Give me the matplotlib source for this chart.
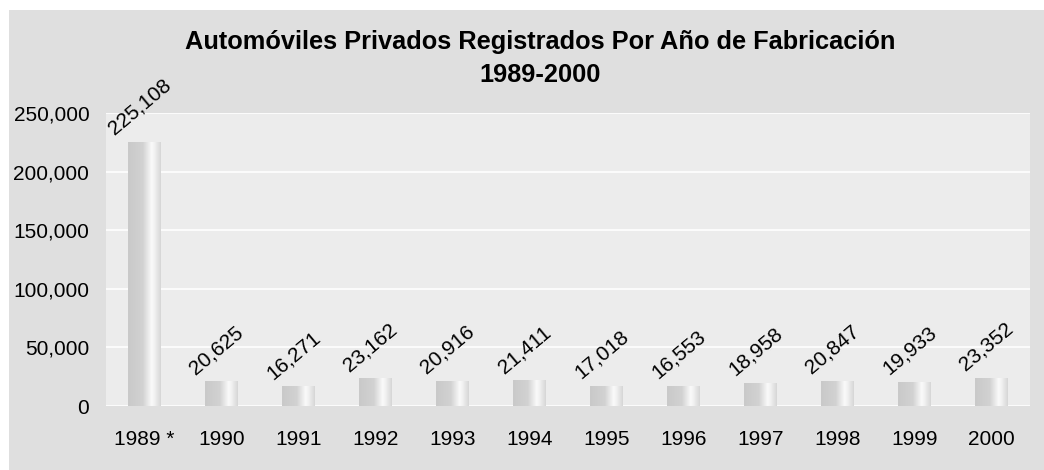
import numpy as np
import matplotlib.pyplot as plt
from matplotlib.colors import LinearSegmentedColormap
from matplotlib.patches import Rectangle
from matplotlib.ticker import FuncFormatter

years = ["1989 *", "1990", "1991", "1992", "1993", "1994",
         "1995", "1996", "1997", "1998", "1999", "2000"]
cars = [225108, 20625, 16271, 23162, 20916, 21411,
        17018, 16553, 18958, 20847, 19933, 23352]

plt.rcParams['font.family'] = ['Liberation Sans', 'DejaVu Sans']

fig = plt.figure(figsize=(10.44, 4.70), dpi=100)
fig.patch.set_facecolor('white')
# gray chart area
fig.patches.append(Rectangle((9/1044, 0), 1 - 9/1044, 1 - 10/470,
                             transform=fig.transFigure, facecolor='#dfdfdf',
                             edgecolor='none', zorder=-10))

ax = fig.add_axes([106/1044, 1 - 406/470, (1030 - 106)/1044, (406 - 113)/470])
ax.set_facecolor('#ececec')

x = np.arange(len(years))
bars = ax.bar(x, cars, width=0.42, color='none', edgecolor='none', zorder=2)

# cylinder-like shading
shade = LinearSegmentedColormap.from_list('shade', [
    (0.0, '#c9c9c9'), (0.45, '#d2d2d2'), (0.72, '#fafafa'),
    (0.8, '#f2f2f2'), (1.0, '#d6d6d6')])
grad = np.linspace(0, 1, 256).reshape(1, -1)
for b in bars:
    x0, y0 = b.get_x(), b.get_y()
    ax.imshow(grad, cmap=shade, aspect='auto', zorder=2,
              extent=(x0, x0 + b.get_width(), y0, y0 + b.get_height()))

for xi, v in zip(x, cars):
    ax.annotate(f"{v:,}", (xi, v), xytext=(-3.5, 3), textcoords='offset points',
                ha='center', va='bottom', rotation=40, fontsize=15)

ax.set_xlim(-0.5, len(years) - 0.5)
ax.set_ylim(0, 250000)
ax.set_yticks(np.arange(0, 250001, 50000))
ax.yaxis.set_major_formatter(FuncFormatter(lambda v, p: f"{int(v):,}"))
ax.set_xticks(x)
ax.set_xticklabels(years)
ax.tick_params(axis='both', length=0, labelsize=15)
ax.tick_params(axis='y', pad=12)
ax.tick_params(axis='x', pad=17)
ax.grid(axis='y', color='white', linewidth=1.2, zorder=1)
ax.set_axisbelow(True)
for s in ax.spines.values():
    s.set_visible(False)

fig.text(540/1044, 1 - 49/470, "Automóviles Privados Registrados Por Año de Fabricación",
         ha='center', va='baseline', fontsize=18.3, fontweight='bold')
fig.text(540/1044, 1 - 82/470, "1989-2000",
         ha='center', va='baseline', fontsize=18.3, fontweight='bold')

fig.savefig('out.png', dpi=100, facecolor=fig.get_facecolor())
